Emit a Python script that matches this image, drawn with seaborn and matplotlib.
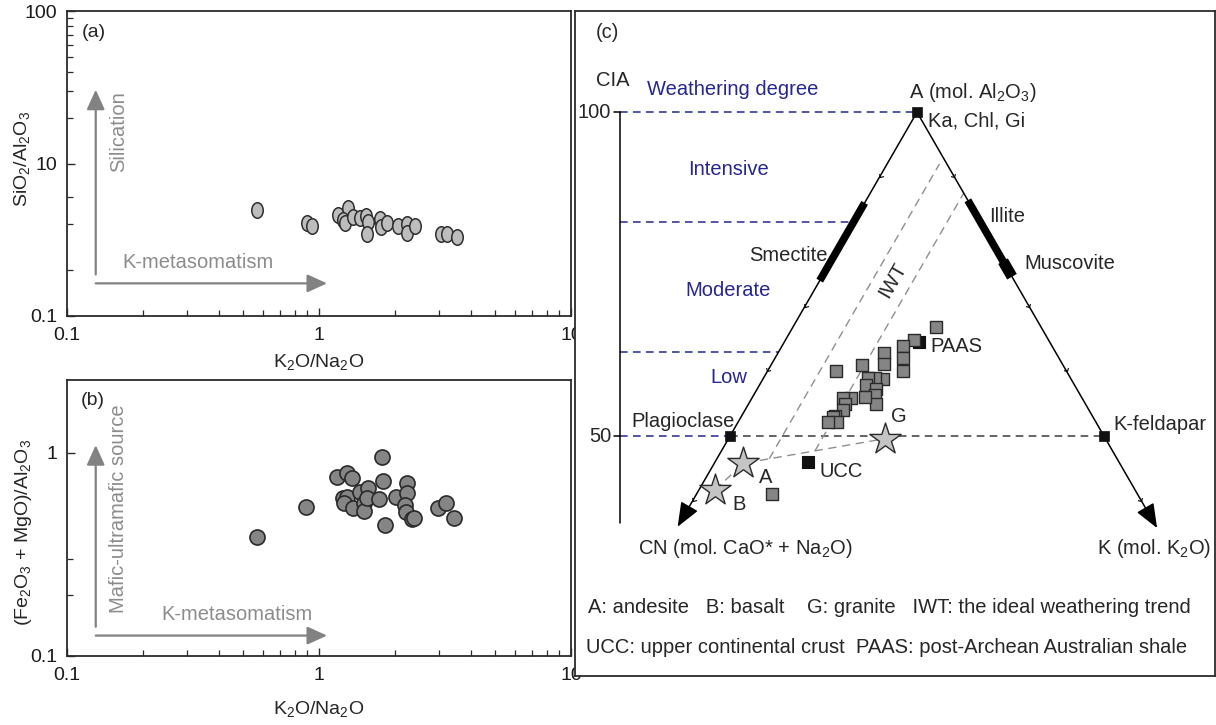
import numpy as np
import matplotlib
matplotlib.use("Agg")
import matplotlib.pyplot as plt
from matplotlib.path import Path
from matplotlib.transforms import Affine2D
from matplotlib.patches import ArrowStyle
from matplotlib.ticker import FixedLocator, FixedFormatter, NullFormatter
import seaborn as sns

# ---------------- data ----------------
# (a) SiO2/Al2O3 against K2O/Na2O
k2o_na2o_a = [0.569, 0.893, 0.935, 1.193, 1.306, 1.25, 1.268, 1.37, 1.455, 1.53, 1.57,
              1.55, 1.74, 1.77, 1.855, 2.05, 2.24, 2.24, 2.40, 3.04, 3.21, 3.52]
sio2_al2o3 = [4.95, 4.09, 3.89, 4.59, 5.08, 4.26, 4.09, 4.48, 4.37, 4.53, 4.15,
              3.45, 4.31, 3.82, 4.05, 3.89, 4.01, 3.52, 3.89, 3.45, 3.45, 3.31]

# (b) (Fe2O3 + MgO)/Al2O3 against K2O/Na2O
k2o_na2o_b = [0.569, 0.888, 1.175, 1.288, 1.348, 1.249, 1.288, 1.257, 1.368, 1.454,
              1.57, 1.509, 1.509, 1.546, 1.73, 1.773, 1.789, 1.827, 2.02, 2.24,
              2.24, 2.194, 2.214, 2.33, 2.38, 2.976, 3.18, 3.44]
femg_al2o3 = [0.386, 0.539, 0.762, 0.792, 0.748, 0.597, 0.604, 0.568, 0.533, 0.643,
              0.668, 0.564, 0.519, 0.597, 0.590, 0.949, 0.728, 0.441, 0.604, 0.712,
              0.631, 0.553, 0.513, 0.470, 0.476, 0.533, 0.568, 0.476]

# (c) A-CN-K compositions (molar %, CN = 100 - A - K)
sample_A = [66.9, 64.9, 63.9, 62.0, 60.0, 62.9, 61.1, 61.0, 60.0, 58.8, 58.9, 58.9, 57.9,
            57.2, 56.3, 55.0, 56.0, 55.9, 55.9, 55.0, 54.0, 53.1, 52.9, 52.1, 52.1, 41.1]
sample_K = [19.1, 17.1, 16.2, 17.1, 18.1, 14.1, 15.0, 12.2, 9.2, 16.0, 15.0, 14.0, 14.2,
            15.9, 16.3, 17.0, 15.0, 13.2, 12.2, 12.9, 13.1, 12.5, 12.3, 13.2, 12.1, 10.0]

ref_names = ["PAAS", "UCC"]
ref_A = [64.5, 46.0]
ref_K = [18.0, 12.4]

rock_names = ["A", "B", "G"]
rock_A = [45.8, 41.7, 49.6]
rock_K = [3.9, 2.15, 20.9]

mineral_names = ["Ka, Chl, Gi", "Plagioclase", "K-feldapar"]
mineral_A = [100, 50, 50]
mineral_K = [0, 0, 50]

smectite_A = [86.0, 74.0]      # on the A-CN join
illite_A = [86.4, 76.5]        # on the A-K join
muscovite_A = [77.0, 74.6]     # on the A-K join

iwt_K = [7.0, 12.5]
iwt_A_start = [46.5, 47.7]
iwt_A_end = [92.0, 87.5]

cia_levels = [100, 83, 63, 50]
cia_ticks = [100, 50]
degree_names = ["Intensive", "Moderate", "Low"]

# ---------------- style ----------------
sns.set_theme(style="ticks")
plt.rcParams["font.family"] = ["Liberation Sans", "DejaVu Sans"]
plt.rcParams["mathtext.default"] = "regular"

INK = "#2b2b2b"
GREY_TXT = "#8c8c8c"
GREY_ARW = "#828282"
BLUE = "#26268f"
FS = 14

fig = plt.figure(figsize=(12.16, 7.25), dpi=100)
W, H = 1216, 725


def box(l, t, r, b):
    return [l / W, 1 - b / H, (r - l) / W, (b - t) / H]


ax_a = fig.add_axes(box(67, 11, 571, 316))
ax_b = fig.add_axes(box(67, 380, 571, 656))
ax_c = fig.add_axes(box(575, 11, 1215, 676))


def log_panel(ax, ylim, yticks, ylabels, yminor):
    ax.set_xscale("log")
    ax.set_yscale("log")
    ax.set_xlim(0.1, 10)
    ax.set_ylim(*ylim)
    ax.xaxis.set_major_locator(FixedLocator([0.1, 1, 10]))
    ax.xaxis.set_major_formatter(FixedFormatter(["0.1", "1", "10"]))
    ax.xaxis.set_minor_locator(FixedLocator([m * d for d in (0.1, 1) for m in range(2, 10)]))
    ax.xaxis.set_minor_formatter(NullFormatter())
    ax.yaxis.set_major_locator(FixedLocator(yticks))
    ax.yaxis.set_major_formatter(FixedFormatter(ylabels))
    ax.yaxis.set_minor_locator(FixedLocator(yminor))
    ax.yaxis.set_minor_formatter(NullFormatter())
    ax.tick_params(which="both", direction="in", top=False, right=False,
                   color=INK, labelcolor="#1a1a1a", labelsize=FS)
    ax.tick_params(which="major", length=6, width=1.0)
    ax.tick_params(which="minor", length=4.5, width=0.9)
    ax.tick_params(axis="x", which="major", pad=8)
    ax.tick_params(axis="y", which="major", pad=7)
    for sp in ax.spines.values():
        sp.set_color(INK)
        sp.set_linewidth(1.3)
    ax.grid(False)


def trend_arrow(ax, start, end):
    ax.annotate("", xy=end, xytext=start, xycoords="axes fraction",
                arrowprops=dict(arrowstyle=ArrowStyle("-|>", head_length=0.55, head_width=0.25),
                                mutation_scale=22, color=GREY_ARW, lw=1.6,
                                shrinkA=0, shrinkB=0))


# ---------------- (a) ----------------
log_panel(ax_a, (1, 100), [1, 10, 100], ["0.1", "10", "100"],
          [2, 4, 6] + [m * 10 for m in range(2, 10)])
ellipse = Path.unit_circle().transformed(Affine2D().scale(0.74, 1.0))
sns.scatterplot(x=k2o_na2o_a, y=sio2_al2o3, ax=ax_a, marker=ellipse, s=125,
                color="#bdbdbd", edgecolor="#2e2e2e", linewidth=1.1, zorder=3)
ax_a.set_xlabel(r"K$_2$O/Na$_2$O", fontsize=FS)
ax_a.set_ylabel(r"SiO$_2$/Al$_2$O$_3$", fontsize=FS)
ax_a.xaxis.set_label_coords(0.5, -0.118)
ax_a.yaxis.set_label_coords(-0.069, 0.515)
ax_a.text(0.03, 0.928, "(a)", transform=ax_a.transAxes, fontsize=FS, va="center", ha="left")
trend_arrow(ax_a, (0.057, 0.136), (0.057, 0.742))
trend_arrow(ax_a, (0.057, 0.107), (0.516, 0.107))
ax_a.text(0.103, 0.605, "Silication", transform=ax_a.transAxes, rotation=90,
          fontsize=14.5, color=GREY_TXT, ha="center", va="center")
ax_a.text(0.26, 0.175, "K-metasomatism", transform=ax_a.transAxes,
          fontsize=14.5, color=GREY_TXT, ha="center", va="center")

# ---------------- (b) ----------------
log_panel(ax_b, (0.1, 2.28), [0.1, 1], ["0.1", "1"], [0.2, 0.3])
sns.scatterplot(x=k2o_na2o_b, y=femg_al2o3, ax=ax_b, marker="o", s=118,
                color="#858585", edgecolor="#2a2a2a", linewidth=1.2, zorder=3)
ax_b.set_xlabel(r"K$_2$O/Na$_2$O", fontsize=FS)
ax_b.set_ylabel(r"(Fe$_2$O$_3$ + MgO)/Al$_2$O$_3$", fontsize=FS)
ax_b.xaxis.set_label_coords(0.5, -0.156)
ax_b.yaxis.set_label_coords(-0.065, 0.447)
ax_b.text(0.027, 0.927, "(b)", transform=ax_b.transAxes, fontsize=FS, va="center", ha="left")
trend_arrow(ax_b, (0.057, 0.106), (0.057, 0.764))
trend_arrow(ax_b, (0.057, 0.074), (0.516, 0.074))
ax_b.text(0.103, 0.535, "Mafic-ultramafic source", transform=ax_b.transAxes, rotation=90,
          fontsize=14.5, color=GREY_TXT, ha="center", va="center")
ax_b.text(0.337, 0.149, "K-metasomatism", transform=ax_b.transAxes,
          fontsize=14.5, color=GREY_TXT, ha="center", va="center")

# ---------------- (c) A-CN-K ternary ----------------
S3 = np.sqrt(3) / 2


def to_xy(a, k):
    a = np.asarray(a, dtype=float)
    k = np.asarray(k, dtype=float)
    return k + a / 2.0, a * S3


ax_c.set_xlim(4.28, 89.84)
ax_c.set_ylim(11.23, 100.13)
ax_c.set_xticks([])
ax_c.set_yticks([])
for sp in ax_c.spines.values():
    sp.set_color(INK)
    sp.set_linewidth(1.3)
ax_c.grid(False)

FSC = 14.5

# triangle sides with arrows toward CN and K
apex = to_xy(100, 0)
for tip in (to_xy(36.0, 0), to_xy(35.8, 64.2)):
    ax_c.annotate("", xy=tuple(tip), xytext=tuple(apex), xycoords="data",
                  arrowprops=dict(arrowstyle=ArrowStyle("-|>", head_length=0.75, head_width=0.3),
                                  mutation_scale=20, color="black", lw=1.1,
                                  shrinkA=0, shrinkB=0), zorder=2)

# small chevrons every 10 % along both sides
chev = Path([(-1, 1), (0, 0), (-1, -1)], [Path.MOVETO, Path.LINETO, Path.LINETO])
tick_A = [90, 80, 70, 60, 40]
lx, ly = to_xy(tick_A, [0] * len(tick_A))
rx, ry = to_xy(tick_A, [100 - a for a in tick_A])
ax_c.plot(lx, ly, ls="none", marker=chev.transformed(Affine2D().rotate_deg(240)),
          ms=5, mec="black", mew=0.8, mfc="none", zorder=2)
ax_c.plot(rx, ry, ls="none", marker=chev.transformed(Affine2D().rotate_deg(300)),
          ms=5, mec="black", mew=0.8, mfc="none", zorder=2)

# CIA scale
CIA_X = 10.3
cia_lo = 36.6
ax_c.plot([CIA_X, CIA_X], [100 * S3, cia_lo * S3], color="black", lw=1.1)
for c in cia_ticks:
    ax_c.plot([CIA_X - 0.8, CIA_X], [c * S3, c * S3], color="black", lw=1.1)
    ax_c.text(CIA_X - 1.2, c * S3, str(c), ha="right", va="center", fontsize=FSC)
ax_c.text(9.36, 90.9, "CIA", ha="center", va="center", fontsize=FSC)

# weathering degree levels
for c in cia_levels:
    ax_c.plot([CIA_X, c / 2.0], [c * S3, c * S3], color=BLUE, lw=1.1,
              ls=(0, (5, 3.5)), zorder=1)
px, py = to_xy([50, 50], [0, 50])
ax_c.plot(px, py, color="#3a3a3a", lw=1.1, ls=(0, (5, 3.5)), zorder=1)
ax_c.text(25.4, 89.7, "Weathering degree", color=BLUE, ha="center", va="center", fontsize=FSC)
for name, yy in zip(degree_names, [79.0, 62.7, 51.1]):
    ax_c.text(24.8, yy, name, color=BLUE, ha="center", va="center", fontsize=FSC)

# ideal weathering trends and source-rock mixing line
for k, a0, a1 in zip(iwt_K, iwt_A_start, iwt_A_end):
    xs, ys = to_xy([a0, a1], [k, k])
    ax_c.plot(xs, ys, color="#8f8f8f", lw=1.0, ls=(0, (6, 4)), zorder=1)
mx, my = to_xy([rock_A[1], rock_A[0], rock_A[2]], [rock_K[1], rock_K[0], rock_K[2]])
ax_c.plot(mx, my, color="#8f8f8f", lw=1.0, ls=(0, (6, 4)), zorder=1)
ax_c.text(46.8, 64.2, "IWT", rotation=60, ha="center", va="center", fontsize=FSC)

# clay mineral ranges
sx, sy = to_xy(smectite_A, [0, 0])
ax_c.plot(sx, sy, color="black", lw=5.5, solid_capstyle="butt", zorder=3)
ix, iy = to_xy(illite_A, [100 - a for a in illite_A])
ax_c.plot(ix, iy, color="black", lw=5.5, solid_capstyle="butt", zorder=3)
mux, muy = to_xy(muscovite_A, [100 - a for a in muscovite_A])
ax_c.plot(mux, muy, color="black", lw=8, solid_capstyle="butt", zorder=3)
ax_c.text(38.0, 67.5, "Smectite", ha="right", va="center", fontsize=FSC)
ax_c.text(59.7, 72.7, "Illite", ha="left", va="center", fontsize=FSC)
ax_c.text(64.4, 66.4, "Muscovite", ha="left", va="center", fontsize=FSC)

# samples
smx, smy = to_xy(sample_A, sample_K)
sns.scatterplot(x=smx, y=smy, ax=ax_c, marker="s", s=78, color="#858585",
                edgecolor="#2a2a2a", linewidth=1.0, zorder=4)

# reference compositions
rfx, rfy = to_xy(ref_A, ref_K)
sns.scatterplot(x=rfx, y=rfy, ax=ax_c, marker="s", s=80, color="#111111",
                edgecolor="#111111", linewidth=0.8, zorder=3)
ax_c.text(51.8, 55.3, "PAAS", ha="left", va="center", fontsize=FSC)
ax_c.text(37.0, 38.6, "UCC", ha="left", va="center", fontsize=FSC)

# end-member minerals
mnx, mny = to_xy(mineral_A, mineral_K)
sns.scatterplot(x=mnx, y=mny, ax=ax_c, marker="s", s=48, color="#111111",
                edgecolor="#111111", linewidth=0.5, zorder=5)
ax_c.text(51.5, 85.4, "Ka, Chl, Gi", ha="left", va="center", fontsize=FSC)
ax_c.text(25.7, 45.3, "Plagioclase", ha="right", va="center", fontsize=FSC)
ax_c.text(76.2, 44.8, "K-feldapar", ha="left", va="center", fontsize=FSC)

# source rocks
rkx, rky = to_xy(rock_A, rock_K)
sns.scatterplot(x=rkx, y=rky, ax=ax_c, marker="*", s=560, color="#c4c4c4",
                edgecolor="#2a2a2a", linewidth=1.0, zorder=5)
for name, xx, yy in zip(rock_names, [29.8, 26.2, 47.6], [37.8, 34.2, 45.9]):
    ax_c.text(xx, yy, name, ha="center", va="center", fontsize=FSC)

# apex labels
ax_c.text(57.5, 89.2, r"A (mol. Al$_2$O$_3$)", ha="center", va="center", fontsize=FSC)
ax_c.text(27.1, 28.3, r"CN (mol. CaO* + Na$_2$O)", ha="center", va="center", fontsize=FSC)
ax_c.text(81.7, 28.3, r"K (mol. K$_2$O)", ha="center", va="center", fontsize=FSC)

ax_c.text(8.56, 97.2, "(c)", ha="center", va="center", fontsize=FSC)

ax_c.text(6.08, 20.45, "A: andesite   B: basalt    G: granite   IWT: the ideal weathering trend",
          ha="left", va="center", fontsize=FSC)
ax_c.text(5.8, 15.0, "UCC: upper continental crust  PAAS: post-Archean Australian shale",
          ha="left", va="center", fontsize=FSC)

fig.savefig("out.png", dpi=100)
